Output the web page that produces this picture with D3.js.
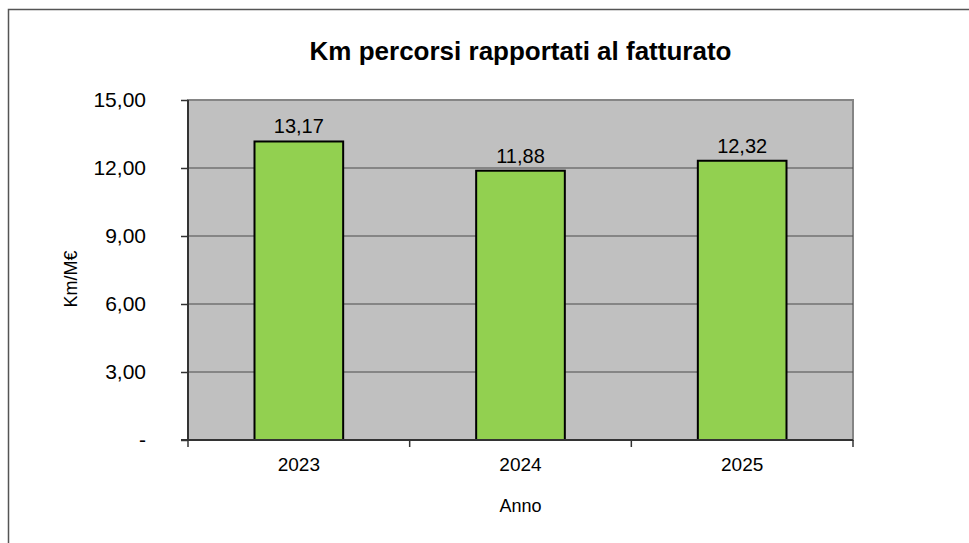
<!DOCTYPE html>
<html>
<head>
<meta charset="utf-8">
<script src="https://cdn.jsdelivr.net/npm/d3@7"></script>
<style>
  html, body { margin: 0; padding: 0; background: #fff; }
  svg { display: block; font-family: "Liberation Sans", Arial, sans-serif; }
</style>
</head>
<body>
<svg id="chart" width="969" height="543"></svg>
<script>
const categories = ["2023", "2024", "2025"];
const values = [13.17, 11.88, 12.32];
const yTicks = [0, 3, 6, 9, 12, 15];
const title = "Km percorsi rapportati al fatturato";
const xTitle = "Anno";
const yTitle = "Km/M€";

const svg = d3.select("#chart");
const W = 969, H = 543;
const plot = { left: 188, right: 853, top: 100, bottom: 440 };

// outer border (top and left visible)
svg.append("path")
  .attr("d", `M8.5,${H} L8.5,9.5 L${W},9.5`)
  .attr("fill", "none").attr("stroke", "#555").attr("stroke-width", 1.5);

const x = d3.scaleBand().domain(categories).range([plot.left, plot.right]).paddingInner(0.6).paddingOuter(0.3);
const xCat = d3.scaleBand().domain(categories).range([plot.left, plot.right]);
const y = d3.scaleLinear().domain([0, 15]).range([plot.bottom, plot.top]);

const fmt = v => v === 0 ? "-" : d3.format(".2f")(v).replace(".", ",");

// plot background
svg.append("rect")
  .attr("x", plot.left).attr("y", plot.top)
  .attr("width", plot.right - plot.left).attr("height", plot.bottom - plot.top)
  .attr("fill", "#c0c0c0").attr("stroke", "#858585").attr("stroke-width", 2);

// gridlines
svg.append("g").selectAll("line").data(yTicks.filter(t => t > 0 && t < 15)).join("line")
  .attr("x1", plot.left).attr("x2", plot.right)
  .attr("y1", d => y(d)).attr("y2", d => y(d))
  .attr("stroke", "#4a4a4a").attr("stroke-width", 1);

// bars
svg.append("g").selectAll("rect").data(values).join("rect")
  .attr("x", (d, i) => x(categories[i]))
  .attr("y", d => y(d))
  .attr("width", x.bandwidth())
  .attr("height", d => y(0) - y(d))
  .attr("fill", "#92d050").attr("stroke", "#000").attr("stroke-width", 2);

// value labels
svg.append("g").selectAll("text").data(values).join("text")
  .attr("x", (d, i) => x(categories[i]) + x.bandwidth() / 2)
  .attr("y", d => y(d) - 8)
  .attr("text-anchor", "middle")
  .attr("font-size", 20).attr("fill", "#000")
  .text(d => fmt(d));

// Y axis
const yAxis = d3.axisLeft(y).tickValues(yTicks).tickFormat(fmt).tickSize(7).tickPadding(35);
const gy = svg.append("g").attr("transform", `translate(${plot.left},0)`).call(yAxis);
gy.select(".domain").attr("stroke", "#333").attr("stroke-width", 2).attr("d", `M0,${plot.top}V${plot.bottom}`);
gy.selectAll(".tick line").attr("stroke", "#333").attr("stroke-width", 1.5);
gy.selectAll(".tick text").attr("font-size", 21).attr("fill", "#000")
  .attr("font-family", "Liberation Sans, Arial, sans-serif");

// X axis
const xAxis = d3.axisBottom(xCat).tickSize(0).tickPadding(18);
const gx = svg.append("g").attr("transform", `translate(0,${plot.bottom})`).call(xAxis);
gx.select(".domain").attr("stroke", "#333").attr("stroke-width", 2).attr("d", `M${plot.left - 7},0H${plot.right}`);
gx.selectAll(".tick text").attr("font-size", 19).attr("fill", "#000")
  .attr("font-family", "Liberation Sans, Arial, sans-serif");
// category boundary ticks
svg.append("g").selectAll("line").data(categories.concat(["end"])).join("line")
  .attr("x1", (d, i) => i < categories.length ? xCat(d) : plot.right)
  .attr("x2", (d, i) => i < categories.length ? xCat(d) : plot.right)
  .attr("y1", plot.bottom).attr("y2", plot.bottom + 7)
  .attr("stroke", "#333").attr("stroke-width", 1.5);

// titles
svg.append("text").attr("x", (plot.left + plot.right) / 2).attr("y", 60)
  .attr("text-anchor", "middle").attr("font-size", 26).attr("font-weight", "bold")
  .text(title);
svg.append("text").attr("x", (plot.left + plot.right) / 2).attr("y", 512)
  .attr("text-anchor", "middle").attr("font-size", 18)
  .text(xTitle);
svg.append("text").attr("transform", `translate(77,279) rotate(-90)`)
  .attr("text-anchor", "middle").attr("font-size", 18)
  .text(yTitle);
</script>
</body>
</html>
